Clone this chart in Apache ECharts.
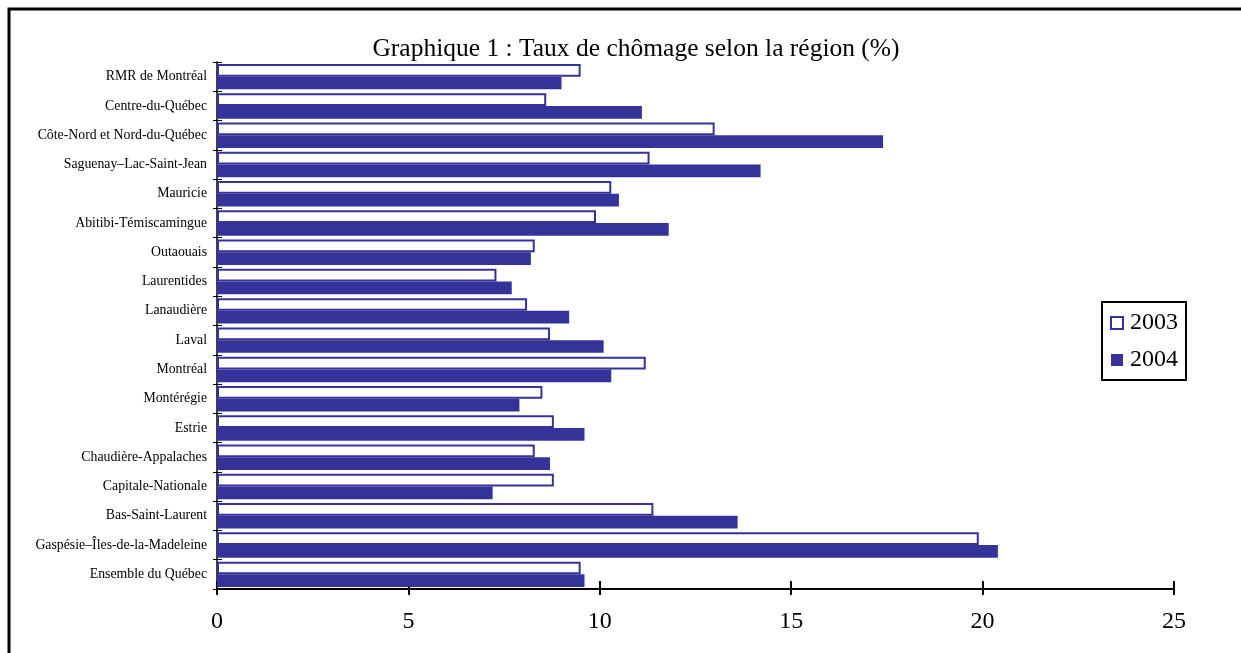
<!DOCTYPE html>
<html>
<head>
<meta charset="utf-8">
<script src="https://cdn.jsdelivr.net/npm/echarts@6/dist/echarts.min.js"></script>
<style>
html,body{margin:0;padding:0;background:#fff;}
#chart{width:1241px;height:653px;}
</style>
</head>
<body>
<div id="chart"></div>
<script>
const categories = [
  "RMR de Montréal",
  "Centre-du-Québec",
  "Côte-Nord et Nord-du-Québec",
  "Saguenay–Lac-Saint-Jean",
  "Mauricie",
  "Abitibi-Témiscamingue",
  "Outaouais",
  "Laurentides",
  "Lanaudière",
  "Laval",
  "Montréal",
  "Montérégie",
  "Estrie",
  "Chaudière-Appalaches",
  "Capitale-Nationale",
  "Bas-Saint-Laurent",
  "Gaspésie–Îles-de-la-Madeleine",
  "Ensemble du Québec"
];
const values2003 = [9.5, 8.6, 13.0, 11.3, 10.3, 9.9, 8.3, 7.3, 8.1, 8.7, 11.2, 8.5, 8.8, 8.3, 8.8, 11.4, 19.9, 9.5];
const values2004 = [9.0, 11.1, 17.4, 14.2, 10.5, 11.8, 8.2, 7.7, 9.2, 10.1, 10.3, 7.9, 9.6, 8.7, 7.2, 13.6, 20.4, 9.6];
const seriesNames = ["2003", "2004"];
const xTicks = [0, 5, 10, 15, 20, 25];
const titleText = "Graphique 1 : Taux de chômage selon la région (%)";

const NAVY = "#333399";
const FONT = "'Liberation Serif', 'Times New Roman', serif";

const chart = echarts.init(document.getElementById("chart"), null, {renderer: "canvas"});
const option = {
  animation: false,
  backgroundColor: "#fff",
  title: {
    text: titleText,
    left: 631,
    textAlign: "center",
    top: 31,
    textStyle: {fontFamily: FONT, fontSize: 25.5, fontWeight: "normal", color: "#000"}
  },
  graphic: [{
    type: "rect",
    shape: {x: 9, y: 9, width: 1300, height: 700},
    style: {fill: "none", stroke: "#000", lineWidth: 3},
    silent: true
  }],
  legend: {
    orient: "vertical",
    left: 1102,
    top: 302,
    width: 89,
    padding: [9, 8, 8, 8],
    itemGap: 13,
    itemWidth: 12,
    itemHeight: 12,
    borderColor: "#000",
    borderWidth: 2,
    icon: "rect",
    textStyle: {fontFamily: FONT, fontSize: 24, color: "#000", padding: [0, 0, 0, 2]},
    data: [
      {name: seriesNames[0], itemStyle: {color: "#fff", borderColor: NAVY, borderWidth: 2}},
      {name: seriesNames[1], itemStyle: {color: NAVY, borderWidth: 0}}
    ]
  },
  grid: {left: 217, right: 67, top: 62, bottom: 64, containLabel: false},
  xAxis: [{
    type: "value",
    min: xTicks[0],
    max: xTicks[xTicks.length - 1],
    interval: 5,
    position: "bottom",
    axisLine: {show: true, lineStyle: {color: "#000", width: 2}},
    axisTick: {show: true, inside: false, length: 6, lineStyle: {color: "#000", width: 2}},
    splitLine: {show: false},
    axisLabel: {fontFamily: FONT, fontSize: 24, color: "#000", margin: 21}
  }, {
    type: "value",
    min: xTicks[0],
    max: xTicks[xTicks.length - 1],
    interval: 5,
    position: "bottom",
    axisLine: {show: false},
    axisTick: {show: true, inside: true, length: 8, lineStyle: {color: "#000", width: 2}},
    splitLine: {show: false},
    axisLabel: {show: false}
  }],
  yAxis: [{
    type: "category",
    data: categories,
    inverse: true,
    position: "left",
    axisLine: {show: true, lineStyle: {color: "#000", width: 1.5}},
    axisTick: {show: true, inside: false, length: 4, lineStyle: {color: "#000", width: 1}},
    axisLabel: {fontFamily: FONT, fontSize: 13.8, color: "#000", margin: 10}
  }, {
    type: "category",
    data: categories,
    inverse: true,
    position: "left",
    axisLine: {show: false},
    axisTick: {show: true, inside: true, length: 5, lineStyle: {color: "#000", width: 1}},
    axisLabel: {show: false}
  }],
  series: [{
    name: seriesNames[0],
    type: "bar",
    data: values2003,
    xAxisIndex: 0,
    yAxisIndex: 0,
    barGap: "0%",
    barCategoryGap: "13%",
    itemStyle: {color: "#fff", borderColor: NAVY, borderWidth: 2}
  }, {
    name: seriesNames[1],
    type: "bar",
    data: values2004,
    xAxisIndex: 0,
    yAxisIndex: 0,
    barGap: "0%",
    barCategoryGap: "13%",
    itemStyle: {color: NAVY}
  }]
};
chart.setOption(option);
</script>
</body>
</html>
